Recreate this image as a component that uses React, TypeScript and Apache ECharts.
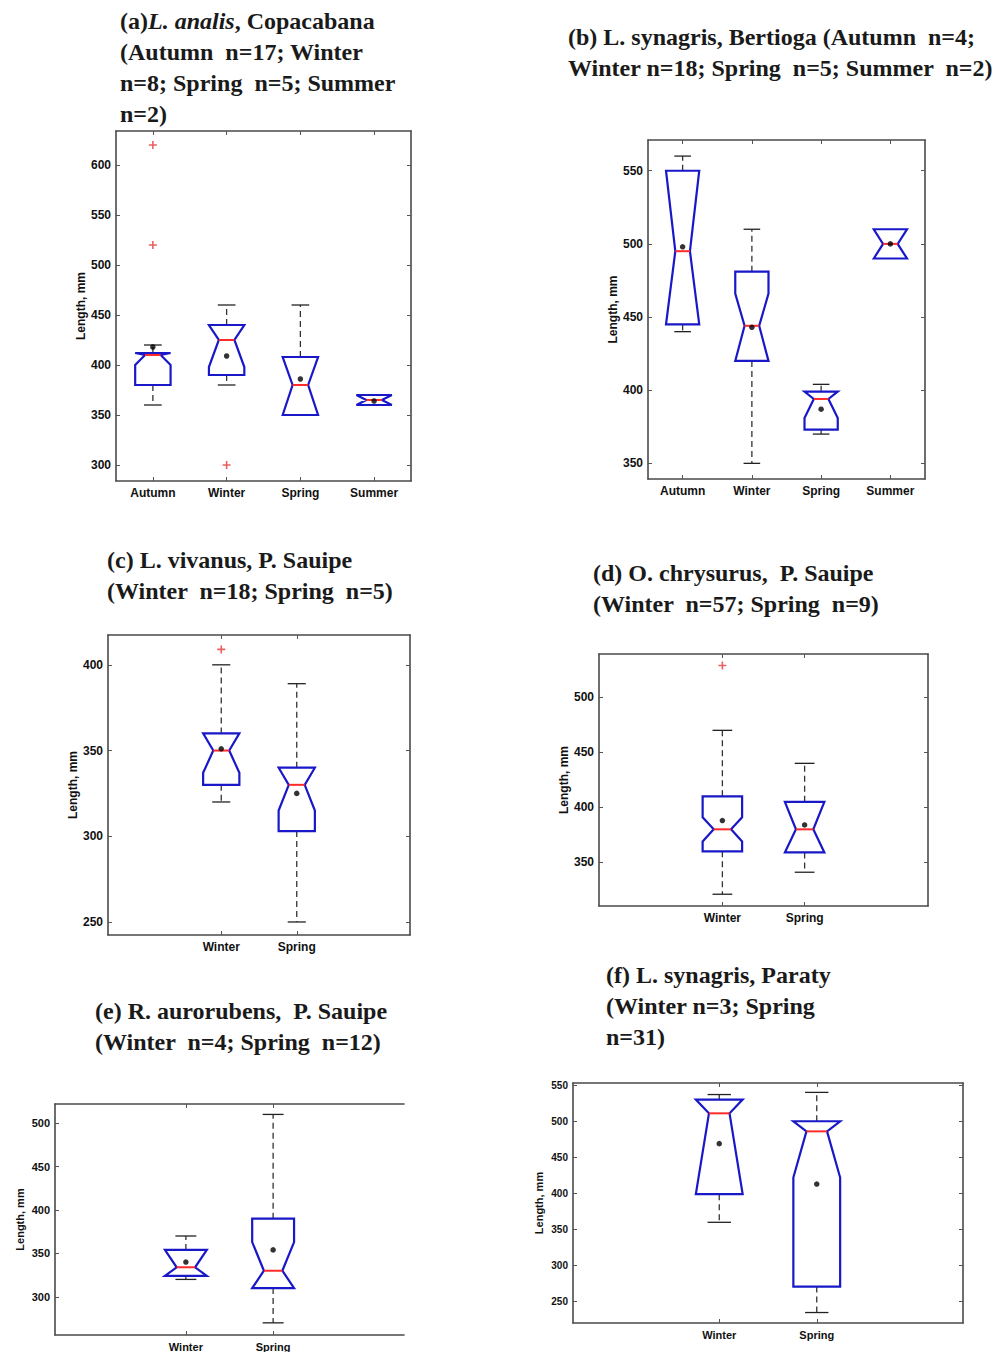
import React, { useEffect, useRef } from 'react';
import * as echarts from 'echarts';

// Box stats: [whiskerLow, q1, notchLow, median, notchHigh, q3, whiskerHigh]
const catsA = ['Autumn', 'Winter', 'Spring', 'Summer'];
const seasonsA = ['Autumn', 'Winter', 'Spring', 'Summer'];
const boxesA = [
  [360, 380, 400, 410, 412, 412, 420],
  [380, 390, 398, 425, 440, 440, 460],
  [350, 350, 350, 380, 408, 408, 460],
  [360, 360, 360, 365, 370, 370, 370],
];
const meansA = [418, 409, 386, 364];
const outliersA: [string, number][] = [['Autumn', 620], ['Autumn', 520], ['Winter', 300]];
const yTicksA = [300, 350, 400, 450, 500, 550, 600];

const catsB = ['Autumn', 'Winter', 'Spring', 'Summer'];
const seasonsB = ['Autumn', 'Winter', 'Spring', 'Summer'];
const boxesB = [
  [440, 445, 445, 495, 550, 550, 560],
  [350, 420, 420, 444, 466, 481, 510],
  [370, 373, 381, 394, 399, 399, 404],
  [490, 490, 490, 500, 510, 510, 510],
];
const meansB = [498, 443, 387, 500];
const outliersB: [string, number][] = [];
const yTicksB = [350, 400, 450, 500, 550];

const catsC = ['', 'Winter', 'Spring', ''];
const seasonsC = ['Winter', 'Spring'];
const boxesC = [
  [320, 330, 337, 350, 360, 360, 400],
  [250, 303, 315, 330, 340, 340, 389],
];
const meansC = [351, 325];
const outliersC: [string, number][] = [['Winter', 409]];
const yTicksC = [250, 300, 350, 400];

const catsD = ['', 'Winter', 'Spring', ''];
const seasonsD = ['Winter', 'Spring'];
const boxesD = [
  [321, 360, 369, 380, 391, 410, 470],
  [341, 359, 359, 380, 405, 405, 440],
];
const meansD = [388, 384];
const outliersD: [string, number][] = [['Winter', 529]];
const yTicksD = [350, 400, 450, 500];

const catsE = ['', 'Winter', 'Spring', ''];
const seasonsE = ['Winter', 'Spring'];
const boxesE = [
  [320, 324, 324, 334, 354, 354, 370],
  [270, 310, 310, 330, 363, 390, 510],
];
const meansE = [340, 354];
const outliersE: [string, number][] = [];
const yTicksE = [300, 350, 400, 450, 500];

const catsF = ['', 'Winter', 'Spring', ''];
const seasonsF = ['Winter', 'Spring'];
const boxesF = [
  [360, 399, 399, 511, 530, 530, 537],
  [235, 271, 422, 486, 500, 500, 540],
];
const meansF = [469, 413];
const outliersF: [string, number][] = [];
const yTicksF = [250, 300, 350, 400, 450, 500, 550];

const titleA = '(a){i|L. analis}, Copacabana\n(Autumn  n=17; Winter\nn=8; Spring  n=5; Summer\nn=2)';
const titleB = '(b) L. synagris, Bertioga (Autumn  n=4;\nWinter n=18; Spring  n=5; Summer  n=2)';
const titleC = '(c) L. vivanus, P. Sauipe\n(Winter  n=18; Spring  n=5)';
const titleD = '(d) O. chrysurus,  P. Sauipe\n(Winter  n=57; Spring  n=9)';
const titleE = '(e) R. aurorubens,  P. Sauipe\n(Winter  n=4; Spring  n=12)';
const titleF = '(f) L. synagris, Paraty\n(Winter n=3; Spring\nn=31)';
const yName = 'Length, mm';

const panels = [
  { cats: catsA, seasons: seasonsA, boxes: boxesA, means: meansA, outliers: outliersA, yTicks: yTicksA,
    yMin: 284, yMax: 634, grid: { left: 116, top: 131, width: 295, height: 350 }, nameGap: 22, font: 12, yFont: 12,
    title: titleA, tl: 120, tt: 5, rightLine: true },
  { cats: catsB, seasons: seasonsB, boxes: boxesB, means: meansB, outliers: outliersB, yTicks: yTicksB,
    yMin: 339.3, yMax: 571, grid: { left: 648, top: 140, width: 277, height: 339 }, nameGap: 18, font: 12, yFont: 12,
    title: titleB, tl: 568, tt: 21, rightLine: true },
  { cats: catsC, seasons: seasonsC, boxes: boxesC, means: meansC, outliers: outliersC, yTicks: yTicksC,
    yMin: 242.4, yMax: 417.4, grid: { left: 108, top: 635, width: 302, height: 300 }, nameGap: 24, font: 12, yFont: 12,
    title: titleC, tl: 107, tt: 544, rightLine: true },
  { cats: catsD, seasons: seasonsD, boxes: boxesD, means: meansD, outliers: outliersD, yTicks: yTicksD,
    yMin: 310.3, yMax: 539.4, grid: { left: 599, top: 654, width: 329, height: 252 }, nameGap: 29, font: 12, yFont: 12,
    title: titleD, tl: 593, tt: 557, rightLine: true },
  { cats: catsE, seasons: seasonsE, boxes: boxesE, means: meansE, outliers: outliersE, yTicks: yTicksE,
    yMin: 256, yMax: 522, grid: { left: 55, top: 1104, width: 349, height: 233 }, nameGap: 30, font: 11, yFont: 11,
    title: titleE, tl: 95, tt: 995, rightLine: false },
  { cats: catsF, seasons: seasonsF, boxes: boxesF, means: meansF, outliers: outliersF, yTicks: yTicksF,
    yMin: 220.5, yMax: 553, grid: { left: 573, top: 1083, width: 390, height: 240 }, nameGap: 29, font: 11, yFont: 10,
    title: titleF, tl: 606, tt: 959, rightLine: true },
];

const SANS = 'Liberation Sans, Arial, sans-serif';
const SERIF = 'Liberation Serif, Times New Roman, serif';
const AXIS_COLOR = '#4a4a4a';

const renderBox = (params: any, api: any) => {
  const idx = api.value(0);
  const wLo = api.value(1), q1 = api.value(2), nLo = api.value(3), med = api.value(4);
  const nHi = api.value(5), q3 = api.value(6), wHi = api.value(7);
  const band = api.size([1, 0])[0];
  const bw = band * 0.48;
  const cx = api.coord([idx, med])[0];
  const Y = (v: number) => api.coord([idx, v])[1];
  const L = cx - bw / 2, R = cx + bw / 2, ins = bw * 0.28, cap = bw / 4;
  const ch: any[] = [];
  const dashed = { stroke: '#333', lineWidth: 1.3, lineDash: [6, 4], fill: 'none' };
  const solid = { stroke: '#222', lineWidth: 1.3, fill: 'none' };
  if (wLo < q1) {
    ch.push({ type: 'line', shape: { x1: cx, y1: Y(q1), x2: cx, y2: Y(wLo) }, style: dashed });
    ch.push({ type: 'line', shape: { x1: cx - cap, y1: Y(wLo), x2: cx + cap, y2: Y(wLo) }, style: solid });
  }
  if (wHi > q3) {
    ch.push({ type: 'line', shape: { x1: cx, y1: Y(q3), x2: cx, y2: Y(wHi) }, style: dashed });
    ch.push({ type: 'line', shape: { x1: cx - cap, y1: Y(wHi), x2: cx + cap, y2: Y(wHi) }, style: solid });
  }
  ch.push({
    type: 'polygon',
    shape: {
      points: [
        [L, Y(q1)], [L, Y(nLo)], [L + ins, Y(med)], [L, Y(nHi)], [L, Y(q3)],
        [R, Y(q3)], [R, Y(nHi)], [R - ins, Y(med)], [R, Y(nLo)], [R, Y(q1)],
      ],
    },
    style: { fill: 'none', stroke: '#1818c8', lineWidth: 2.2, lineJoin: 'miter' },
  });
  ch.push({
    type: 'line',
    shape: { x1: L + ins, y1: Y(med), x2: R - ins, y2: Y(med) },
    style: { stroke: '#ff2a2a', lineWidth: 2 },
  });
  return { type: 'group', children: ch };
};

function buildOption() {
  const grid: any[] = [];
  const xAxis: any[] = [];
  const yAxis: any[] = [];
  const series: any[] = [];
  const title: any[] = [];
  panels.forEach((p, i) => {
    grid.push({ ...p.grid, containLabel: false, show: false });
    const tickInterval = (_i: number, v: string) => v !== '';
    const xBase = {
      type: 'category', gridIndex: i, data: p.cats, boundaryGap: true,
      axisLine: { show: true, lineStyle: { color: AXIS_COLOR, width: 1.6 } },
      axisTick: { show: true, inside: true, alignWithLabel: true, interval: tickInterval, length: 4, lineStyle: { color: '#555' } },
      splitLine: { show: false },
    };
    xAxis.push({
      ...xBase, position: 'bottom',
      axisLabel: { show: true, interval: 0, margin: 6, color: '#111', fontFamily: SANS, fontWeight: 'bold', fontSize: p.font },
    });
    xAxis.push({ ...xBase, position: 'top', axisLabel: { show: false } });
    const yBase = {
      type: 'value', gridIndex: i, min: p.yMin, max: p.yMax, scale: true,
      splitLine: { show: false },
      axisTick: { show: true, inside: true, length: 4, customValues: p.yTicks, lineStyle: { color: '#555' } },
    };
    yAxis.push({
      ...yBase, position: 'left',
      axisLine: { show: true, lineStyle: { color: AXIS_COLOR, width: 1.6 } },
      axisLabel: { show: true, margin: 5, customValues: p.yTicks, color: '#111', fontFamily: SANS, fontWeight: 'bold', fontSize: p.yFont },
      name: yName, nameLocation: 'middle', nameGap: p.nameGap,
      nameTextStyle: { fontFamily: SANS, fontWeight: 'bold', fontSize: p.font, color: '#111' },
    });
    yAxis.push({
      ...yBase, position: 'right',
      axisLine: { show: p.rightLine, lineStyle: { color: AXIS_COLOR, width: 1.6 } },
      axisTick: { ...yBase.axisTick, show: p.rightLine },
      axisLabel: { show: false },
    });
    const catIndex = (s: string) => p.cats.indexOf(s);
    series.push({
      type: 'custom', xAxisIndex: 2 * i, yAxisIndex: 2 * i,
      renderItem: renderBox,
      encode: { x: 0, y: [1, 2, 3, 4, 5, 6, 7] },
      data: p.boxes.map((b, k) => [catIndex(p.seasons[k]), ...b]),
      z: 3,
    });
    series.push({
      type: 'scatter', xAxisIndex: 2 * i, yAxisIndex: 2 * i,
      symbol: 'circle', symbolSize: 5.5,
      itemStyle: { color: '#000' },
      data: p.means.map((m, k) => [catIndex(p.seasons[k]), m]),
      z: 5,
    });
    if (p.outliers.length) {
      series.push({
        type: 'scatter', xAxisIndex: 2 * i, yAxisIndex: 2 * i,
        symbol: 'path://M4,0H6V4H10V6H6V10H4V6H0V4H4Z', symbolSize: 8,
        itemStyle: { color: '#e23a3a' },
        data: p.outliers.map(([s, v]) => [catIndex(s), v]),
        z: 5,
      });
    }
    title.push({
      text: p.title, left: p.tl, top: p.tt, padding: 0,
      textStyle: {
        fontFamily: SERIF, fontWeight: 'bold', fontSize: 24, lineHeight: 31, color: '#1a1a1a',
        rich: { i: { fontFamily: SERIF, fontWeight: 'bold', fontStyle: 'italic', fontSize: 24, lineHeight: 31, color: '#1a1a1a' } },
      },
    });
  });
  return {
    animation: false,
    backgroundColor: '#ffffff',
    title, grid, xAxis, yAxis, series,
  };
}

export default function App() {
  const ref = useRef<HTMLDivElement>(null);
  useEffect(() => {
    if (!ref.current) return;
    const chart = echarts.init(ref.current, undefined, { renderer: 'svg' });
    chart.setOption(buildOption() as any);
    return () => chart.dispose();
  }, []);
  return (
    <div
      ref={ref}
      style={{ position: 'absolute', left: 0, top: 0, width: 1005, height: 1352, background: '#fff' }}
    />
  );
}
